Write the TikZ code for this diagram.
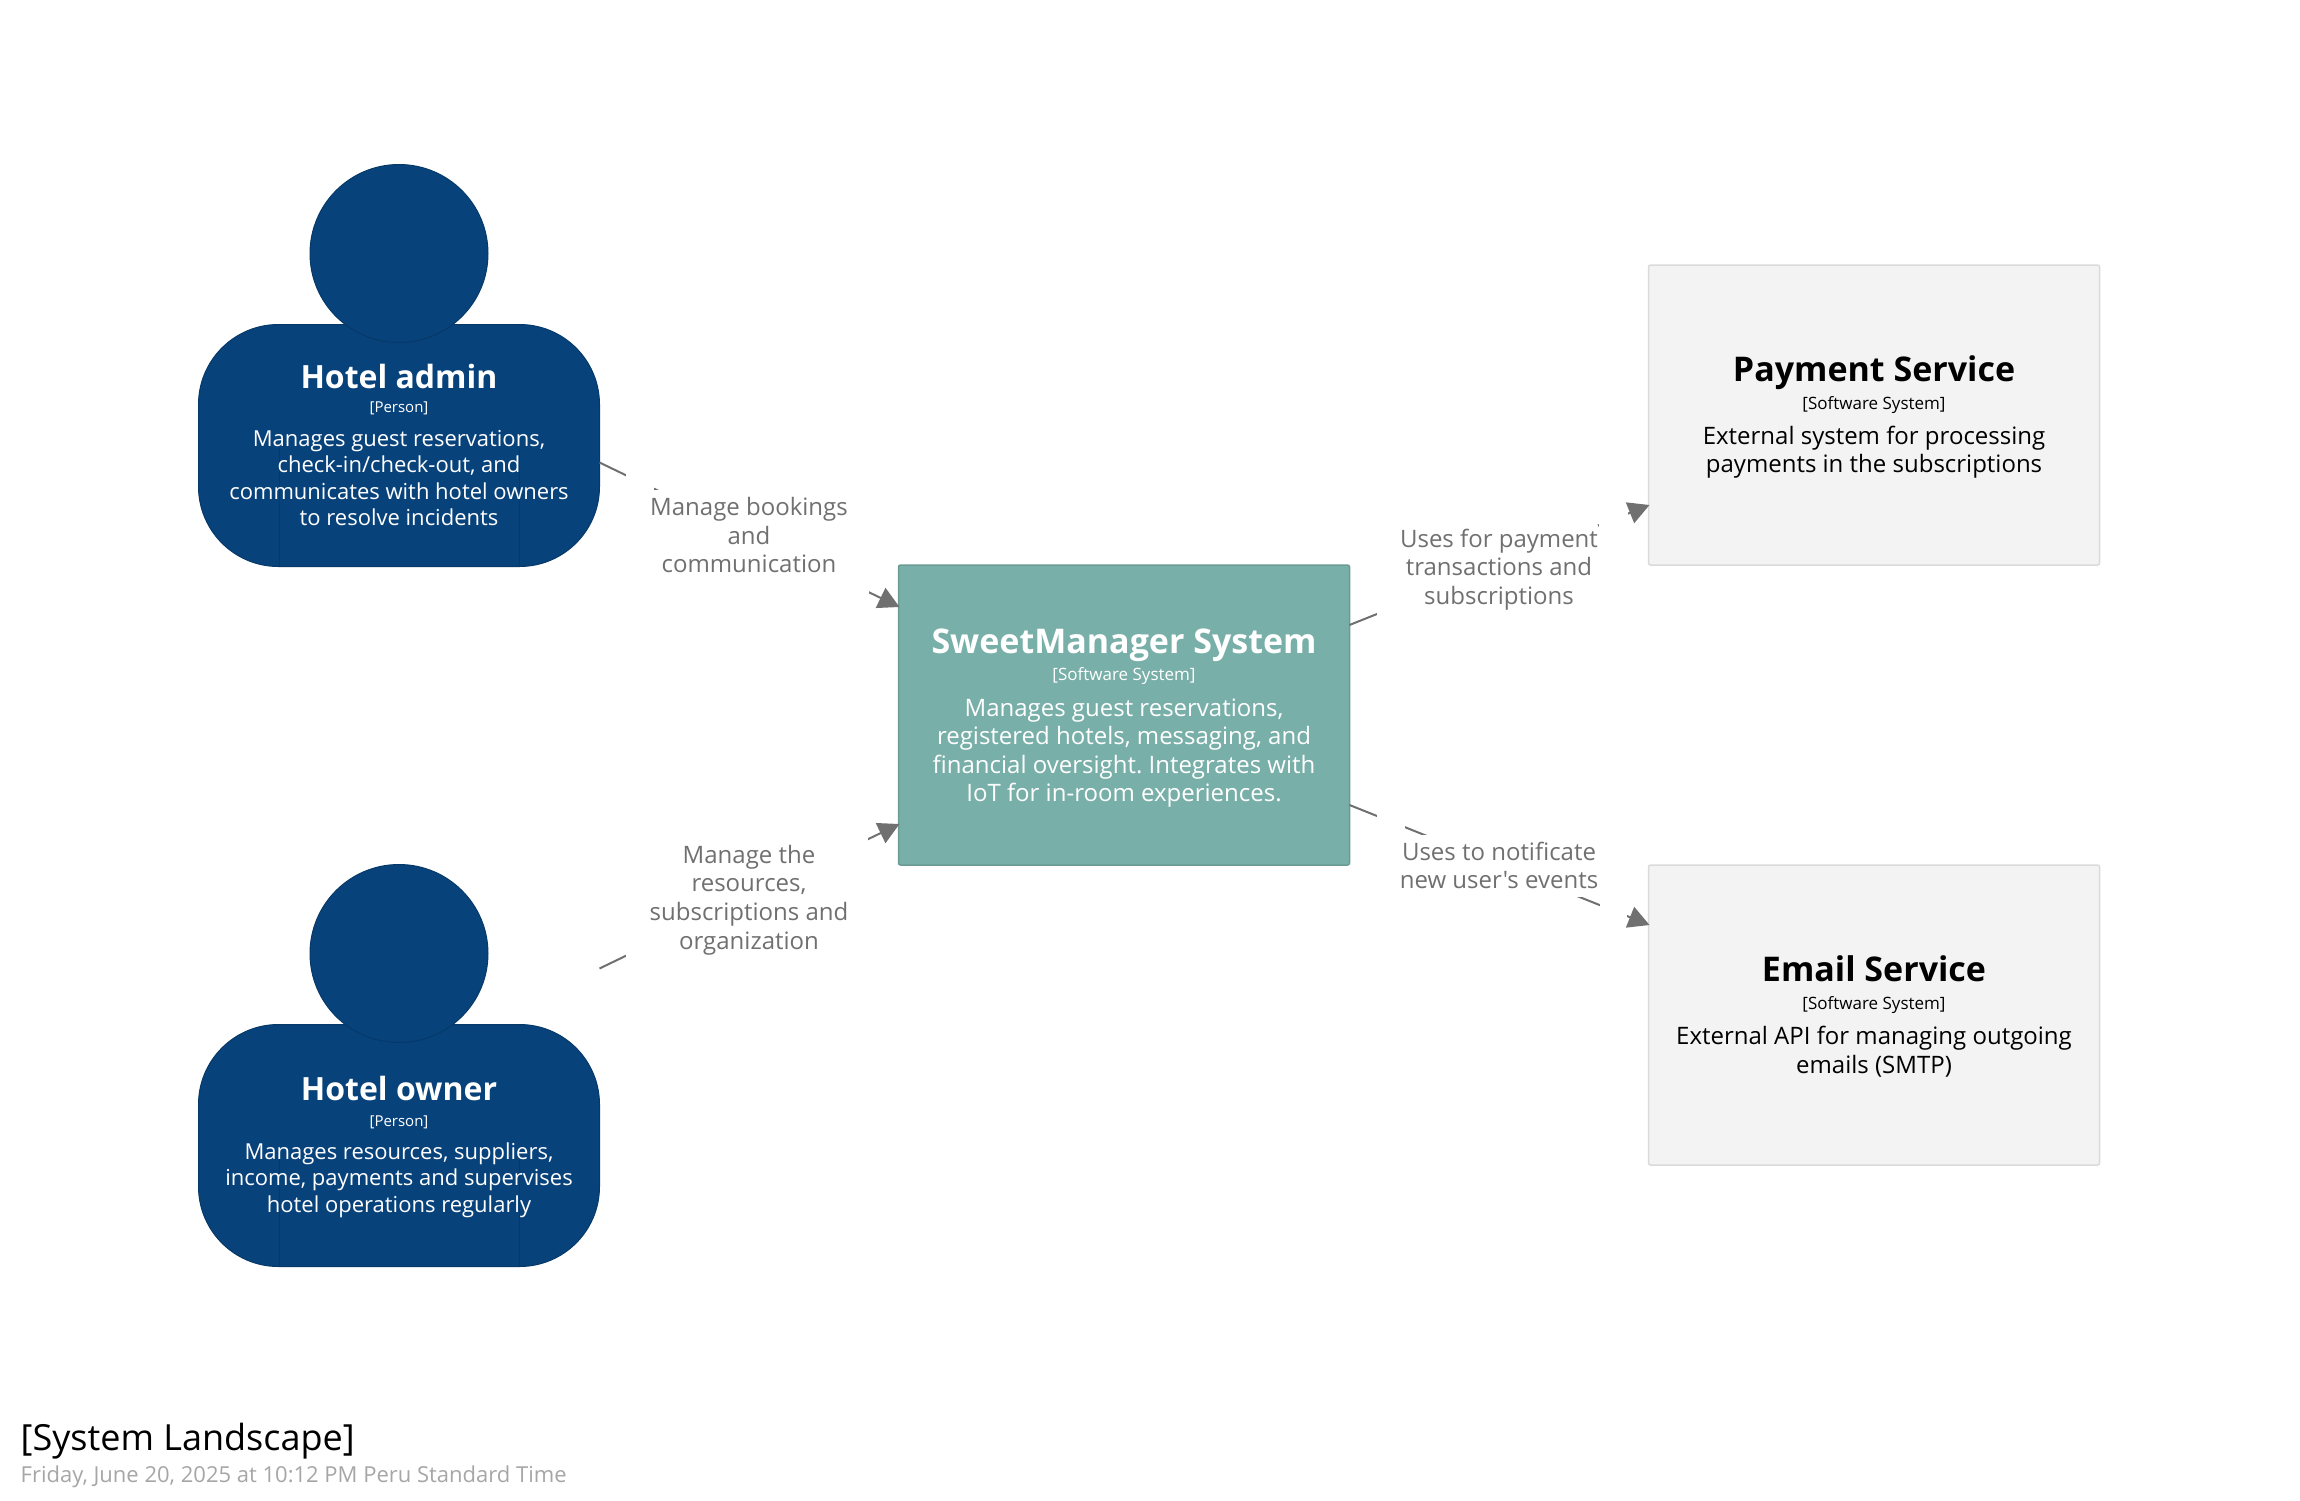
\documentclass[tikz,border=0pt]{standalone}
\usepackage{fontspec}
\setmainfont{Open Sans}[Ligatures=TeXOff]
\usetikzlibrary{arrows.meta}
\usetikzlibrary{positioning}

\definecolor{personblue}{HTML}{08427B}
\definecolor{personedge}{HTML}{063968}
\definecolor{systemteal}{HTML}{78AFA8}
\definecolor{systemedge}{HTML}{6A9C95}
\definecolor{externalgrey}{HTML}{F3F3F3}
\definecolor{externaledge}{HTML}{DADADA}
\definecolor{relgrey}{HTML}{707070}

\newcommand{\fsize}[2]{\fontsize{#1}{#2}\selectfont}

\begin{document}
\frenchspacing
\begin{tikzpicture}[
        x=1pt, y=-1pt,
        body/.style={rectangle, rounded corners=80pt, draw=personedge, fill=personblue, line width=1pt, minimum width=401pt, minimum height=242pt, outer sep=0pt},
        head/.style={circle, draw=personedge, fill=personblue, line width=1pt, minimum size=178pt, outer sep=0pt},
        arm/.style={draw=personedge, line width=1pt},
        sysbox/.style={rectangle, rounded corners=2pt, line width=1.5pt, minimum width=451pt, minimum height=300pt, outer sep=0pt},
        internal/.style={sysbox, draw=systemedge, fill=systemteal},
        external/.style={sysbox, draw=externaledge, fill=externalgrey},
        pname/.style={anchor=base, font=\fsize{32}{38}\bfseries, inner sep=0pt},
        boxname/.style={anchor=base, font=\fsize{34}{40}\bfseries, inner sep=0pt},
        pkind/.style={font=\fsize{15}{18}, inner sep=0pt},
        boxkind/.style={font=\fsize{17}{20}, inner sep=0pt},
        desc/.style={align=center, font=\fsize{24}{28.6}, inner sep=0pt},
        pdesc/.style={align=center, font=\fsize{22}{26.4}, inner sep=0pt},
        rel/.style={draw=relgrey, line width=2pt, -{Triangle[length=21pt, width=22pt]}},
        rellabel/.style={align=center, font=\fsize{24}{28.6}, text=relgrey, fill=white, inner xsep=0pt, inner ysep=0pt}
      ]
        \useasboundingbox (0,0) rectangle (2300,1500);

        % people
        \node[body]  (admin)  at (399,445.5)   {};
        \draw[arm]   ([xshift=-120pt]admin.south) -- ++(0,-119);
        \draw[arm]   ([xshift=120pt]admin.south) -- ++(0,-119);
        \node[head]  (adminhead) at (399,253.5) {};
        \node[pname, text=white]  (adminname)  at (399,388)  {Hotel admin};
        \node[pkind, text=white]  (adminkind)  at (399,408.5)  {[Person]};
        \node[pdesc, text=white] (admindesc)  at (399,478)  {Manages guest reservations,\\check-in/check-out, and\\communicates with hotel owners\\to resolve incidents};

        \node[body]  (owner)  at (399,1145.5)  {};
        \draw[arm]   ([xshift=-120pt]owner.south) -- ++(0,-119);
        \draw[arm]   ([xshift=120pt]owner.south) -- ++(0,-119);
        \node[head]  (ownerhead) at (399,953.5) {};
        \node[pname, text=white]  (ownername)  at (399,1100.5) {Hotel owner};
        \node[pkind, text=white]  (ownerkind)  at (399,1122.5) {[Person]};
        \node[pdesc, text=white] (ownerdesc)  at (399,1180) {Manages resources, suppliers,\\income, payments and supervises\\hotel operations regularly};

        % systems
        \node[internal] (system)  at (1124,715)  {};
        \node[boxname, text=white]  (systemname)  at (1124,653.5) {SweetManager System};
        \node[boxkind, text=white]  (systemkind)  at (1124,676) {[Software System]};
        \node[desc, text=white]  (systemdesc)  at (1124,753) {Manages guest reservations,\\registered hotels, messaging, and\\financial oversight. Integrates with\\IoT for in-room experiences.};

        \node[external] (payment) at (1874,415)  {};
        \node[boxname]  (paymentname)  at (1874,381) {Payment Service};
        \node[boxkind]  (paymentkind)  at (1874,405) {[Software System]};
        \node[desc]  (paymentdesc)  at (1874,452) {External system for processing\\payments in the subscriptions};

        \node[external] (email)   at (1874,1015) {};
        \node[boxname]  (emailname)  at (1874,981)  {Email Service};
        \node[boxkind]  (emailkind)  at (1874,1005) {[Software System]};
        \node[desc]  (emaildesc)  at (1874,1052) {External API for managing outgoing\\emails (SMTP)};

        % relations, the white patches break the lines round the labels
        \draw[rel]  ([yshift=-17pt]admin.east) -- ([xshift=1pt, yshift=108pt]system.west);
        \draw[rel]  ([yshift=177pt]owner.east) -- ([xshift=1pt, yshift=-109pt]system.west);
        \draw[rel]  ([yshift=90pt]system.east) -- ([xshift=1pt, yshift=-90pt]payment.west);
        \draw[rel]  ([yshift=-90pt]system.east) -- ([xshift=1pt, yshift=90pt]email.west);

        \fill[white] (626,470) rectangle (654,495);
        \fill[white] (841,575) rectangle (869,597);
        \fill[white] (626,940) rectangle (655,960);
        \fill[white] (843,835) rectangle (868,855);
        \fill[white] (1377,590) rectangle (1405,620);
        \fill[white] (1599,510) rectangle (1628,535);
        \fill[white] (1377,810) rectangle (1405,835);
        \fill[white] (1600,895) rectangle (1627,920);

        \node[rellabel, minimum height=90pt]  (bookings)  at (749,535)  {Manage bookings\\and\\communication};
        \node[rellabel, minimum height=115pt] (resources) at (749,900)    {Manage the\\resources,\\subscriptions and\\organization};
        \node[rellabel, minimum height=90pt]  (payuse)    at (1499,569.5)   {Uses for payment\\transactions and\\subscriptions};
        \node[rellabel, minimum height=62pt]  (mailuse)   at (1499,865.5)   {Uses to notificate\\new user's events};

        % title
        \node[anchor=west, inner sep=0pt, font=\fsize{36}{42}] (title) at (20.5,1441) {[System Landscape]};
        \node[anchor=west, inner sep=0pt, font=\fsize{22}{26}, text=black!35] (date) at (20.5,1476.5) {Friday, June 20, 2025 at 10:12 PM Peru Standard Time};
      \end{tikzpicture}
\end{document}
